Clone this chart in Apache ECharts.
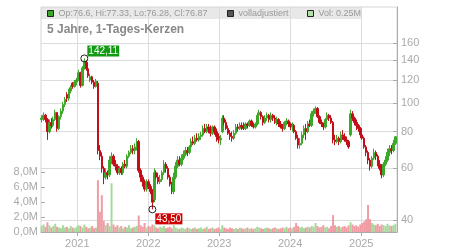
<!DOCTYPE html>
<html>
<head>
<meta charset="utf-8">
<script src="https://cdn.jsdelivr.net/npm/echarts@6/dist/echarts.min.js"></script>
<style>
  html, body { margin: 0; padding: 0; background: #fff; }
  #chart { width: 450px; height: 250px; }
</style>
</head>
<body>
<div id="chart"></div>
<script>
// candles, one every 10 days
const openP = [
  88,89,91,88,80,86,84,88,93,82,
  90,94,99,107,104,110,117,114,118,120,
  127,115,132,138,131,120,123,118,114,117,
  69,66,60,56,58,57,64,66,62,61,
  58,60,58,62,61,66,68,70,69,71,
  74,59,56,54,51,54,52,50,47,58,
  56,54,55,58,62,60,56,53,50,56,
  61,64,62,65,67,69,68,71,74,73,
  76,75,77,78,82,80,83,82,79,83,
  80,77,75,80,89,86,82,79,77,76,
  79,83,82,84,83,82,85,84,87,84,
  83,85,91,93,90,86,89,91,88,91,
  89,86,88,85,83,82,86,87,85,83,
  84,80,76,72,73,78,82,80,85,84,
  92,94,96,90,86,85,83,88,91,89,
  86,75,74,76,74,78,77,75,74,78,
  92,89,86,84,82,78,76,71,68,64,
  61,65,68,66,62,60,57,62,64,68,
  70,69,73
];
const closeP = [
  89,91,88,80,86,84,88,93,82,90,
  94,99,103,104,110,113,114,118,120,127,
  115,132,138,131,124,123,118,114,119,69,
  66,60,56,58,57,64,66,62,61,58,
  60,58,62,61,66,68,70,69,71,74,
  59,56,54,51,54,52,50,46,58,56,
  54,55,58,62,60,56,53,50,56,61,
  64,62,65,67,69,68,71,74,73,76,
  75,77,78,82,80,83,82,79,83,80,
  77,75,76,89,86,82,79,77,76,79,
  83,82,84,83,82,85,84,87,84,83,
  85,91,93,90,86,89,91,88,91,89,
  86,88,85,83,82,86,87,85,83,84,
  80,76,72,73,78,82,80,85,84,92,
  94,96,90,86,85,83,88,91,89,86,
  75,74,76,74,78,77,75,74,71,92,
  89,86,84,82,78,76,71,68,64,61,
  65,68,66,62,60,57,62,64,68,70,
  69,73,76.87
];
const lowP = [
  86,87,86,75,79,82,83,87,80,81,
  88,92,97,101,102,108,112,113,115,119,
  113,114,130,129,122,118,116,112,113,67,
  64,58,53,55,55,56,62,61,59,57,
  57,57,57,60,60,65,67,67,67,69,
  58,54,52,50,50,51,49,43.5,46,55,
  53,53,54,57,58,55,52,49,49,55,
  60,61,61,64,66,66,67,70,72,72,
  74,74,75,77,79,79,79,77,78,78,
  74,73,72,79,84,81,78,75,74,75,
  78,80,81,81,81,81,82,83,83,82,
  82,84,89,88,84,85,87,86,86,87,
  85,84,83,82,80,81,84,83,81,80,
  79,75,70,70,72,76,75,79,83,83,
  90,92,89,85,83,81,82,87,87,85,
  73,72,73,72,73,75,74,72,70,77,
  87,84,81,80,76,75,70,66,62,59,
  60,64,64,61,59,55.5,56,61,63,66,
  67,68,72
];
const highP = [
  91,93,92,89,88,89,90,95,93,91,
  96,101,105,109,112,115,118,120,122,130,
  128,134,142.11,140,133,126,124,120,121,119,
  72,68,61,60,59,66,68,67,64,62,
  61,61,63,64,67,69,72,72,73,76,
  75,60,57,55,55,55,53,51,60,59,
  58,57,59,64,63,61,57,54,58,63,
  66,66,67,69,71,71,72,76,77,78,
  79,79,80,84,85,85,85,84,84,84,
  82,79,78,91,91,88,84,81,80,81,
  85,85,86,86,86,86,86,88,88,86,
  86,93,95,94,91,91,93,92,93,92,
  91,90,89,87,85,87,89,88,86,86,
  85,81,78,76,80,84,85,87,88,94,
  96,97.5,97,91,88,86,89,93,92,91,
  87,78,78,77,80,81,79,77,75,95,
  94,90,88,85,83,80,77,72,69,65,
  66,70,69,67,64,62,63,66,70,72,
  72,75,77.33
];
// volume in millions
const volM = [
  0.8,1.0,0.7,1.3,0.9,0.6,0.8,1.1,0.7,0.6,
  0.5,0.9,0.6,0.7,0.5,0.8,0.6,0.5,0.7,0.9,
  0.8,0.6,1.0,0.7,0.5,0.6,0.8,0.5,0.6,6.9,
  2.7,4.9,1.5,0.9,1.2,0.8,6.5,1.0,0.7,0.9,
  0.6,0.8,0.5,0.7,0.6,0.9,0.5,0.6,0.7,0.8,
  2.2,0.9,0.7,1.2,0.6,0.8,0.7,1.0,0.9,0.6,
  0.5,0.7,0.6,0.8,0.5,0.6,0.7,0.5,0.9,0.6,
  0.5,0.4,0.6,0.5,0.4,0.6,0.5,0.4,0.5,0.6,
  0.4,0.5,0.6,0.4,0.5,0.7,0.4,0.5,0.6,0.4,
  0.5,0.6,0.4,0.9,0.6,0.5,0.4,0.6,0.5,0.4,
  0.5,0.4,0.6,0.5,0.4,0.5,0.6,0.4,0.5,0.4,
  0.5,0.7,0.6,0.5,0.4,0.5,0.6,0.5,0.4,0.5,
  0.6,0.5,0.4,0.5,0.6,0.5,0.7,0.5,0.6,0.5,
  0.7,1.2,0.8,0.6,0.7,0.5,0.6,0.7,0.6,0.8,
  0.7,1.2,0.8,0.6,0.7,0.9,0.6,0.7,0.5,0.8,
  2.25,0.9,0.7,0.8,0.6,0.7,0.8,0.6,0.9,1.3,
  1.0,0.8,0.9,0.7,1.0,1.2,1.4,1.7,3.6,1.7,
  1.2,1.0,0.9,1.1,0.8,1.0,0.9,0.8,1.1,0.9,
  0.8,0.9,1.1
];
const yearTicks = [2021, 2022, 2023, 2024, 2025];
const priceTicks = [40, 60, 80, 100, 120, 140, 160];
const legendNames = ['Op:76.6, Hi:77.33, Lo:76.28, Cl:76.87', 'volladjustiert', 'Vol: 0.25M'];

const upColor = '#3ca82a';
const downColor = '#c30d18';
const font = 'Liberation Sans, Arial, sans-serif';

const chart = echarts.init(document.getElementById('chart'));
const dayMs = 86400000;
const firstDay = Date.UTC(2020, 6, 1);
const dates = closeP.map((c, i) => firstDay + i * 10 * dayMs);
const candles = dates.map((d, i) => [d, openP[i], closeP[i], lowP[i], highP[i]]);
const volumes = dates.map((d, i) => ({
  value: [d, volM[i] * 1e6],
  itemStyle: { color: closeP[i] >= openP[i] ? '#a6da9c' : '#f09ca4' }
}));
const xMin = Date.UTC(2020, 5, 28);
const xMax = Date.UTC(2025, 6, 4);
const yearStamps = yearTicks.map(y => Date.UTC(y, 0, 1));
const fmtDe = v => v.toFixed(2).replace('.', ',');

const legendBase = {
  top: 9, padding: 0, itemWidth: 6, itemHeight: 6, itemGap: 4,
  selectedMode: false,
  textStyle: { color: '#999', fontSize: 9, fontFamily: font }
};

const option = {
  animation: false,
  textStyle: { fontFamily: font },
  title: {
    text: '5 Jahre, 1-Tages-Kerzen',
    left: 47, top: 24, padding: 0,
    textStyle: { color: '#888', fontSize: 12, fontWeight: 'bold', fontFamily: font }
  },
  graphic: [{
    type: 'rect', z: -10,
    shape: { x: 41, y: 7, width: 321, height: 12 },
    style: { fill: '#e8e8e8' }
  }],
  legend: [
    Object.assign({}, legendBase, { left: 47, data: [{ name: legendNames[0], icon: 'rect',
      itemStyle: { color: upColor, borderColor: '#222', borderWidth: 1 } }] }),
    Object.assign({}, legendBase, { left: 227, data: [{ name: legendNames[1], icon: 'rect',
      itemStyle: { color: '#555', borderColor: '#222', borderWidth: 1 } }] }),
    Object.assign({}, legendBase, { left: 307, data: [{ name: legendNames[2], icon: 'rect',
      itemStyle: { color: '#b2e0a8', borderColor: '#222', borderWidth: 1 } }] })
  ],
  grid: [
    { left: 41, right: 53, top: 7, bottom: 18, show: true, borderColor: '#d6d6d6', borderWidth: 1, outerBoundsMode: 'none' },
    { left: 41, right: 53, top: 172, bottom: 18, outerBoundsMode: 'none' }
  ],
  xAxis: [
    {
      type: 'value', gridIndex: 0, min: xMin, max: xMax,
      axisLine: { lineStyle: { color: '#aaa' } },
      axisTick: { customValues: yearStamps, length: 4, lineStyle: { color: '#aaa' } },
      axisLabel: {
        customValues: yearStamps, color: '#aaa', fontSize: 11, margin: 6,
        formatter: v => String(new Date(v).getUTCFullYear())
      },
      splitLine: { show: true, lineStyle: { color: '#dcdcdc' } }
    },
    { type: 'value', gridIndex: 1, min: xMin, max: xMax, show: false }
  ],
  yAxis: [
    {
      type: 'log', gridIndex: 0, position: 'right', min: 36.42, max: 212.7,
      axisLine: { show: true, lineStyle: { color: '#aaa' } },
      axisTick: { show: true, inside: true, length: 4, customValues: priceTicks, lineStyle: { color: '#aaa' } },
      axisLabel: { customValues: priceTicks, color: '#aaa', fontSize: 11, margin: 4 },
      splitLine: { show: true, lineStyle: { color: '#dcdcdc' } }
    },
    {
      type: 'value', gridIndex: 1, position: 'left', min: 0, max: 8e6, interval: 2e6,
      axisLine: { show: false },
      axisTick: { show: true, inside: true, length: 4, lineStyle: { color: '#aaa' } },
      axisLabel: {
        color: '#aaa', fontSize: 11, margin: 3,
        formatter: v => (v / 1e6).toFixed(1).replace('.', ',') + 'M'
      },
      splitLine: { show: false }
    }
  ],
  series: [
    {
      name: legendNames[2], type: 'bar', xAxisIndex: 1, yAxisIndex: 1,
      barWidth: 2, data: volumes, z: 1
    },
    {
      name: legendNames[1], type: 'line', xAxisIndex: 0, yAxisIndex: 0, data: []
    },
    {
      name: legendNames[0], type: 'candlestick', xAxisIndex: 0, yAxisIndex: 0,
      encode: { x: 0, y: [1, 2, 3, 4] },
      barWidth: 2, z: 3,
      itemStyle: {
        color: upColor, color0: downColor,
        borderColor: upColor, borderColor0: downColor, borderColorDoji: upColor,
        borderWidth: 1
      },
      data: candles,
      markPoint: {
        symbol: 'circle', symbolSize: 7,
        itemStyle: { color: 'rgba(255,255,255,0)', borderColor: '#222', borderWidth: 1 },
        data: [
          { type: 'max', valueDim: 'highest',
            label: { position: [7, -9], backgroundColor: '#129a12' } },
          { type: 'min', valueDim: 'lowest',
            label: { position: [7, 8], backgroundColor: '#cc0000' } }
        ],
        label: {
          show: true, color: '#fff', fontSize: 10, padding: [1, 1, 0, 1],
          align: 'left', verticalAlign: 'top',
          formatter: p => fmtDe(p.value)
        }
      }
    }
  ]
};
chart.setOption(option);
</script>
</body>
</html>
